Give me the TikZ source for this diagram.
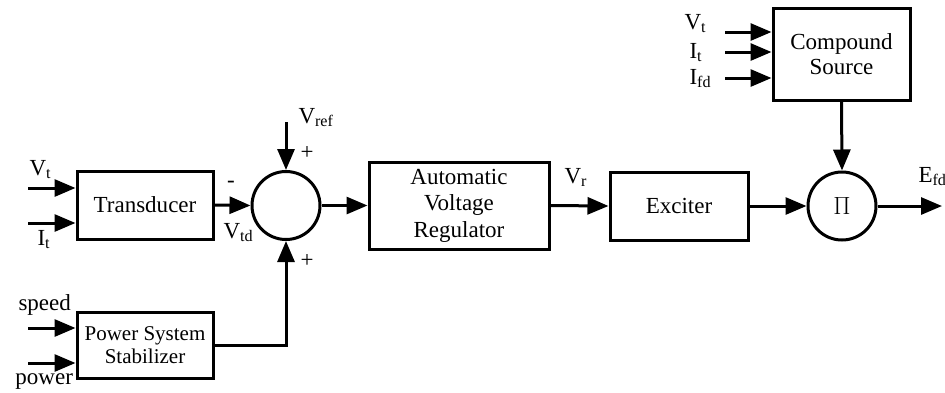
\documentclass[tikz,border=0pt]{standalone}
\usepackage{fontspec}
\setmainfont{Liberation Serif}
\usetikzlibrary{arrows.meta}

\begin{document}
\begin{tikzpicture}[x=1pt, y=-1pt, line width=3pt,
    block/.style={draw, rectangle, inner sep=0pt, align=center},
    junction/.style={draw, circle, inner sep=0pt},
    lbl/.style={inner sep=0pt, anchor=base west},
    sig/.style={-{Triangle[length=21pt, width=17pt]}}]
    \fontsize{23}{26.5}\selectfont
    \useasboundingbox (0,0) rectangle (945,392);

    % Blocks
    \node[block, minimum width=136pt, minimum height=68pt] (trans) at (145,205) {Transducer};
    \node[block, minimum width=136pt, minimum height=66pt, font=\fontsize{21}{23}\selectfont] (pss) at (145,345) {Power System\\Stabilizer};
    \node[junction, minimum size=68pt] (sum) at (286,205.5) {};
    \node[block, minimum width=180pt, minimum height=87pt] (avr) at (459,205.5) {Automatic\\Voltage\\Regulator};
    \node[block, minimum width=138pt, minimum height=68pt] (exc) at (679,206) {Exciter};
    \node[junction, minimum size=68pt] (prod) at (842,206) {$\Pi$};
    \node[block, minimum width=137pt, minimum height=92pt, font=\fontsize{23}{25}\selectfont] (cs) at (841.5,54) {Compound\\Source};

    % Free ends of the input and output lines
    \coordinate (vtin) at (28,188);
    \coordinate (itin) at (28,223);
    \coordinate (spdin) at (28,328);
    \coordinate (pwrin) at (28,363);
    \coordinate (vrefin) at (286,122);
    \coordinate (csvt) at (725,32);
    \coordinate (csit) at (725,52);
    \coordinate (csifd) at (725,78);
    \coordinate (efdout) at (942,206);

    % Connectors
    \draw[sig] (vtin) -- (vtin -| trans.west);
    \draw[sig] (itin) -- (itin -| trans.west);
    \draw[sig] (spdin) -- (spdin -| pss.west);
    \draw[sig] (pwrin) -- (pwrin -| pss.west);
    \draw[sig] (trans.east) -- (sum.west);
    \draw[sig] (vrefin) -- (sum.north);
    \draw[sig] (pss.east) -| (sum.south);
    \draw[sig] (sum.east) -- (avr.west);
    \draw[sig] (avr.east) -- (exc.west);
    \draw[sig] (exc.east) -- (prod.west);
    \draw[sig] (csvt) -- (csvt -| cs.west);
    \draw[sig] (csit) -- (csit -| cs.west);
    \draw[sig] (csifd) -- (csifd -| cs.west);
    \draw[sig] (cs.south) -- (prod.north);
    \draw[sig] (prod.east) -- (efdout);

    % Signal labels
    \node[lbl] (lvt) at (28,175) {V\textsubscript{t}};
    \node[lbl] (lit) at (36,245) {I\textsubscript{t}};
    \node[lbl] (lspd) at (17,310) {speed};
    \node[lbl] (lpwr) at (14,384) {power};
    \node[inner sep=0pt] (lminus) at (231,184) {-};
    \node[lbl] (lvtd) at (222,238) {V\textsubscript{td}};
    \node[lbl] (lvref) at (297,123) {V\textsubscript{ref}};
    \node[inner sep=0pt] (lplusa) at (307,153) {+};
    \node[inner sep=0pt] (lplusb) at (307,261) {+};
    \node[lbl] (lvr) at (563,183) {V\textsubscript{r}};
    \node[lbl] (lcsvt) at (683,29) {V\textsubscript{t}};
    \node[lbl] (lcsit) at (688,58) {I\textsubscript{t}};
    \node[lbl] (lcsifd) at (688,84) {I\textsubscript{fd}};
    \node[lbl] (lefd) at (917,182) {E\textsubscript{fd}};
\end{tikzpicture}
\end{document}
